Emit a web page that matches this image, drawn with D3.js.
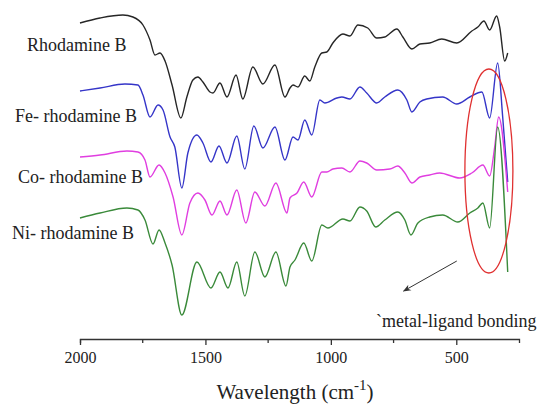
<!doctype html>
<html>
  <head>
    <meta charset="utf-8">
    <title>FTIR spectra</title>
    <script src="https://d3js.org/d3.v7.min.js"></script>
    <style type="text/css">
      body { margin: 0; background-color: #ffffff }
    </style>
  </head>
  <body>
    <script>
      // wavenumber (cm-1) and transmittance (a.u., offset per sample)
      var rhodamine = [[2000,317],[1920,322],[1829,325],[1789,323],[1749,315],[1721,300],[1701,285],[1681,287],[1661,279],[1633,255],[1598,222],[1574,243],[1550,260],[1530,263],[1510,258],[1482,248],[1470,247],[1442,257],[1414,243],[1378,265],[1351,241],[1311,273],[1271,256],[1223,275],[1183,243],[1163,252],[1151,255],[1131,253],[1104,264],[1084,259],[1064,273],[1036,287],[1016,288],[992,297],[952,306],[924,304],[892,315],[853,312],[817,302],[785,303],[737,311],[713,303],[677,291],[645,296],[606,297],[558,301],[498,297],[438,309],[414,313],[390,319],[367,310],[339,324],[327,313],[307,279],[295,287]];
      var feRhodamine = [[2000,249],[1920,252],[1821,256],[1769,255],[1749,245],[1721,223],[1689,235],[1669,230],[1641,203],[1622,193],[1594,152],[1570,187],[1534,205],[1510,197],[1478,178],[1446,194],[1414,177],[1375,204],[1343,171],[1307,214],[1271,192],[1223,213],[1183,180],[1151,203],[1131,200],[1104,220],[1076,205],[1044,240],[1024,237],[976,242],[956,243],[924,241],[884,253],[857,247],[817,237],[785,243],[733,250],[697,240],[677,228],[645,238],[618,241],[554,243],[498,236],[446,243],[398,248],[367,222],[335,277],[315,223],[295,158]];
      var coRhodamine = [[2000,183],[1920,185],[1813,189],[1769,188],[1741,180],[1721,163],[1685,175],[1661,167],[1629,143],[1594,105],[1562,137],[1530,147],[1502,140],[1474,125],[1442,139],[1414,125],[1375,150],[1339,117],[1303,148],[1263,134],[1219,157],[1175,127],[1163,142],[1135,147],[1108,158],[1076,143],[1036,168],[1016,168],[992,171],[956,172],[924,168],[884,179],[857,177],[817,170],[765,171],[733,174],[705,167],[677,157],[645,163],[606,165],[566,167],[486,162],[438,167],[394,175],[367,164],[347,193],[331,223],[295,148]];
      var niRhodamine = [[2000,122],[1920,127],[1813,132],[1769,130],[1741,120],[1709,96],[1685,110],[1661,97],[1633,75],[1594,25],[1534,78],[1478,52],[1442,68],[1410,52],[1375,78],[1343,44],[1303,88],[1263,63],[1219,88],[1179,54],[1163,73],[1143,80],[1108,97],[1076,79],[1036,115],[1012,112],[952,121],[924,119],[884,133],[857,129],[821,113],[785,120],[733,128],[705,120],[681,105],[653,117],[606,123],[554,125],[494,118],[446,127],[414,132],[394,137],[367,112],[335,213],[295,68]];

      var seriesNames = ["Rhodamine B", "Fe- rhodamine B", "Co- rhodamine B", "Ni- rhodamine B"];
      var majorTicks = [2000, 1500, 1000, 500];
      var minorTicks = [1750, 1250, 750];

      var w = 540;
      var h = 406;
      var serif = "Liberation Serif";

      var svg = d3.select("body")
        .append("svg")
        .attr("width", w)
        .attr("height", h);

      var x = d3.scaleLinear().domain([2000, 250]).range([80, 519]);
      var y = d3.scaleLinear().domain([0, 340]).range([340, 0]);

      var line = d3.line()
        .x(function(d) { return x(d[0]); })
        .y(function(d) { return y(d[1]); })
        .curve(d3.curveMonotoneX);

      var series = [
        { name: seriesNames[0], data: rhodamine,   color: "#262626", lx: 27, ly: 51 },
        { name: seriesNames[1], data: feRhodamine, color: "#3535c8", lx: 15, ly: 122 },
        { name: seriesNames[2], data: coRhodamine, color: "#e03ee0", lx: 18, ly: 183 },
        { name: seriesNames[3], data: niRhodamine, color: "#3a8a3a", lx: 12, ly: 239 }
      ];

      svg.selectAll("path.spectrum")
        .data(series)
        .enter()
        .append("path")
        .attr("class", "spectrum")
        .attr("d", function(d) { return line(d.data); })
        .style("fill", "none")
        .style("stroke", function(d) { return d.color; })
        .style("stroke-width", 1.4);

      svg.selectAll("text.label")
        .data(series)
        .enter()
        .append("text")
        .attr("class", "label")
        .attr("x", function(d) { return d.lx; })
        .attr("y", function(d) { return d.ly; })
        .attr("font-family", serif)
        .attr("font-size", 18)
        .attr("fill", "#222")
        .text(function(d) { return d.name; });

      // axis
      var axis = d3.axisBottom(x)
        .tickValues(majorTicks)
        .tickSize(6)
        .tickSizeOuter(4)
        .tickPadding(7)
        .tickFormat(d3.format("d"));

      var gx = svg.append("g")
        .attr("transform", "translate(0,339)")
        .call(axis)
        .attr("font-family", serif)
        .attr("font-size", 16);
      gx.selectAll("path, line").style("stroke", "#333").style("stroke-width", 1.3);
      gx.selectAll("text").attr("fill", "#222");

      gx.selectAll("line.minor")
        .data(minorTicks)
        .enter()
        .append("line")
        .attr("class", "minor")
        .attr("x1", function(d) { return x(d); })
        .attr("x2", function(d) { return x(d); })
        .attr("y1", 0)
        .attr("y2", 4)
        .style("stroke", "#333")
        .style("stroke-width", 1.3);

      var title = svg.append("text")
        .attr("x", 295)
        .attr("y", 399)
        .attr("text-anchor", "middle")
        .attr("font-family", serif)
        .attr("font-size", 21)
        .attr("fill", "#222");
      title.append("tspan").text("Wavelength (cm");
      title.append("tspan").attr("dy", -9).attr("font-size", 15).text("-1");
      title.append("tspan").attr("dy", 9).text(")");

      // metal-ligand annotation
      svg.append("ellipse")
        .attr("cx", x(370))
        .attr("cy", y(169))
        .attr("rx", 24)
        .attr("ry", 102)
        .style("fill", "none")
        .style("stroke", "#e03030")
        .style("stroke-width", 1.3);

      svg.append("defs").append("marker")
        .attr("id", "arrow")
        .attr("viewBox", "0 0 10 10")
        .attr("refX", 9)
        .attr("refY", 5)
        .attr("markerWidth", 8)
        .attr("markerHeight", 8)
        .attr("orient", "auto")
        .append("path")
        .attr("d", "M0,1 L10,5 L0,9 L3,5 Z")
        .style("fill", "#333");

      svg.append("line")
        .attr("x1", x(498))
        .attr("y1", y(79))
        .attr("x2", x(710))
        .attr("y2", y(49))
        .style("stroke", "#333")
        .style("stroke-width", 1)
        .attr("marker-end", "url(#arrow)");

      svg.append("text")
        .attr("x", 376)
        .attr("y", 327)
        .attr("font-family", serif)
        .attr("font-size", 18)
        .attr("fill", "#222")
        .text("`metal-ligand bonding");
    </script>
  </body>
</html>
